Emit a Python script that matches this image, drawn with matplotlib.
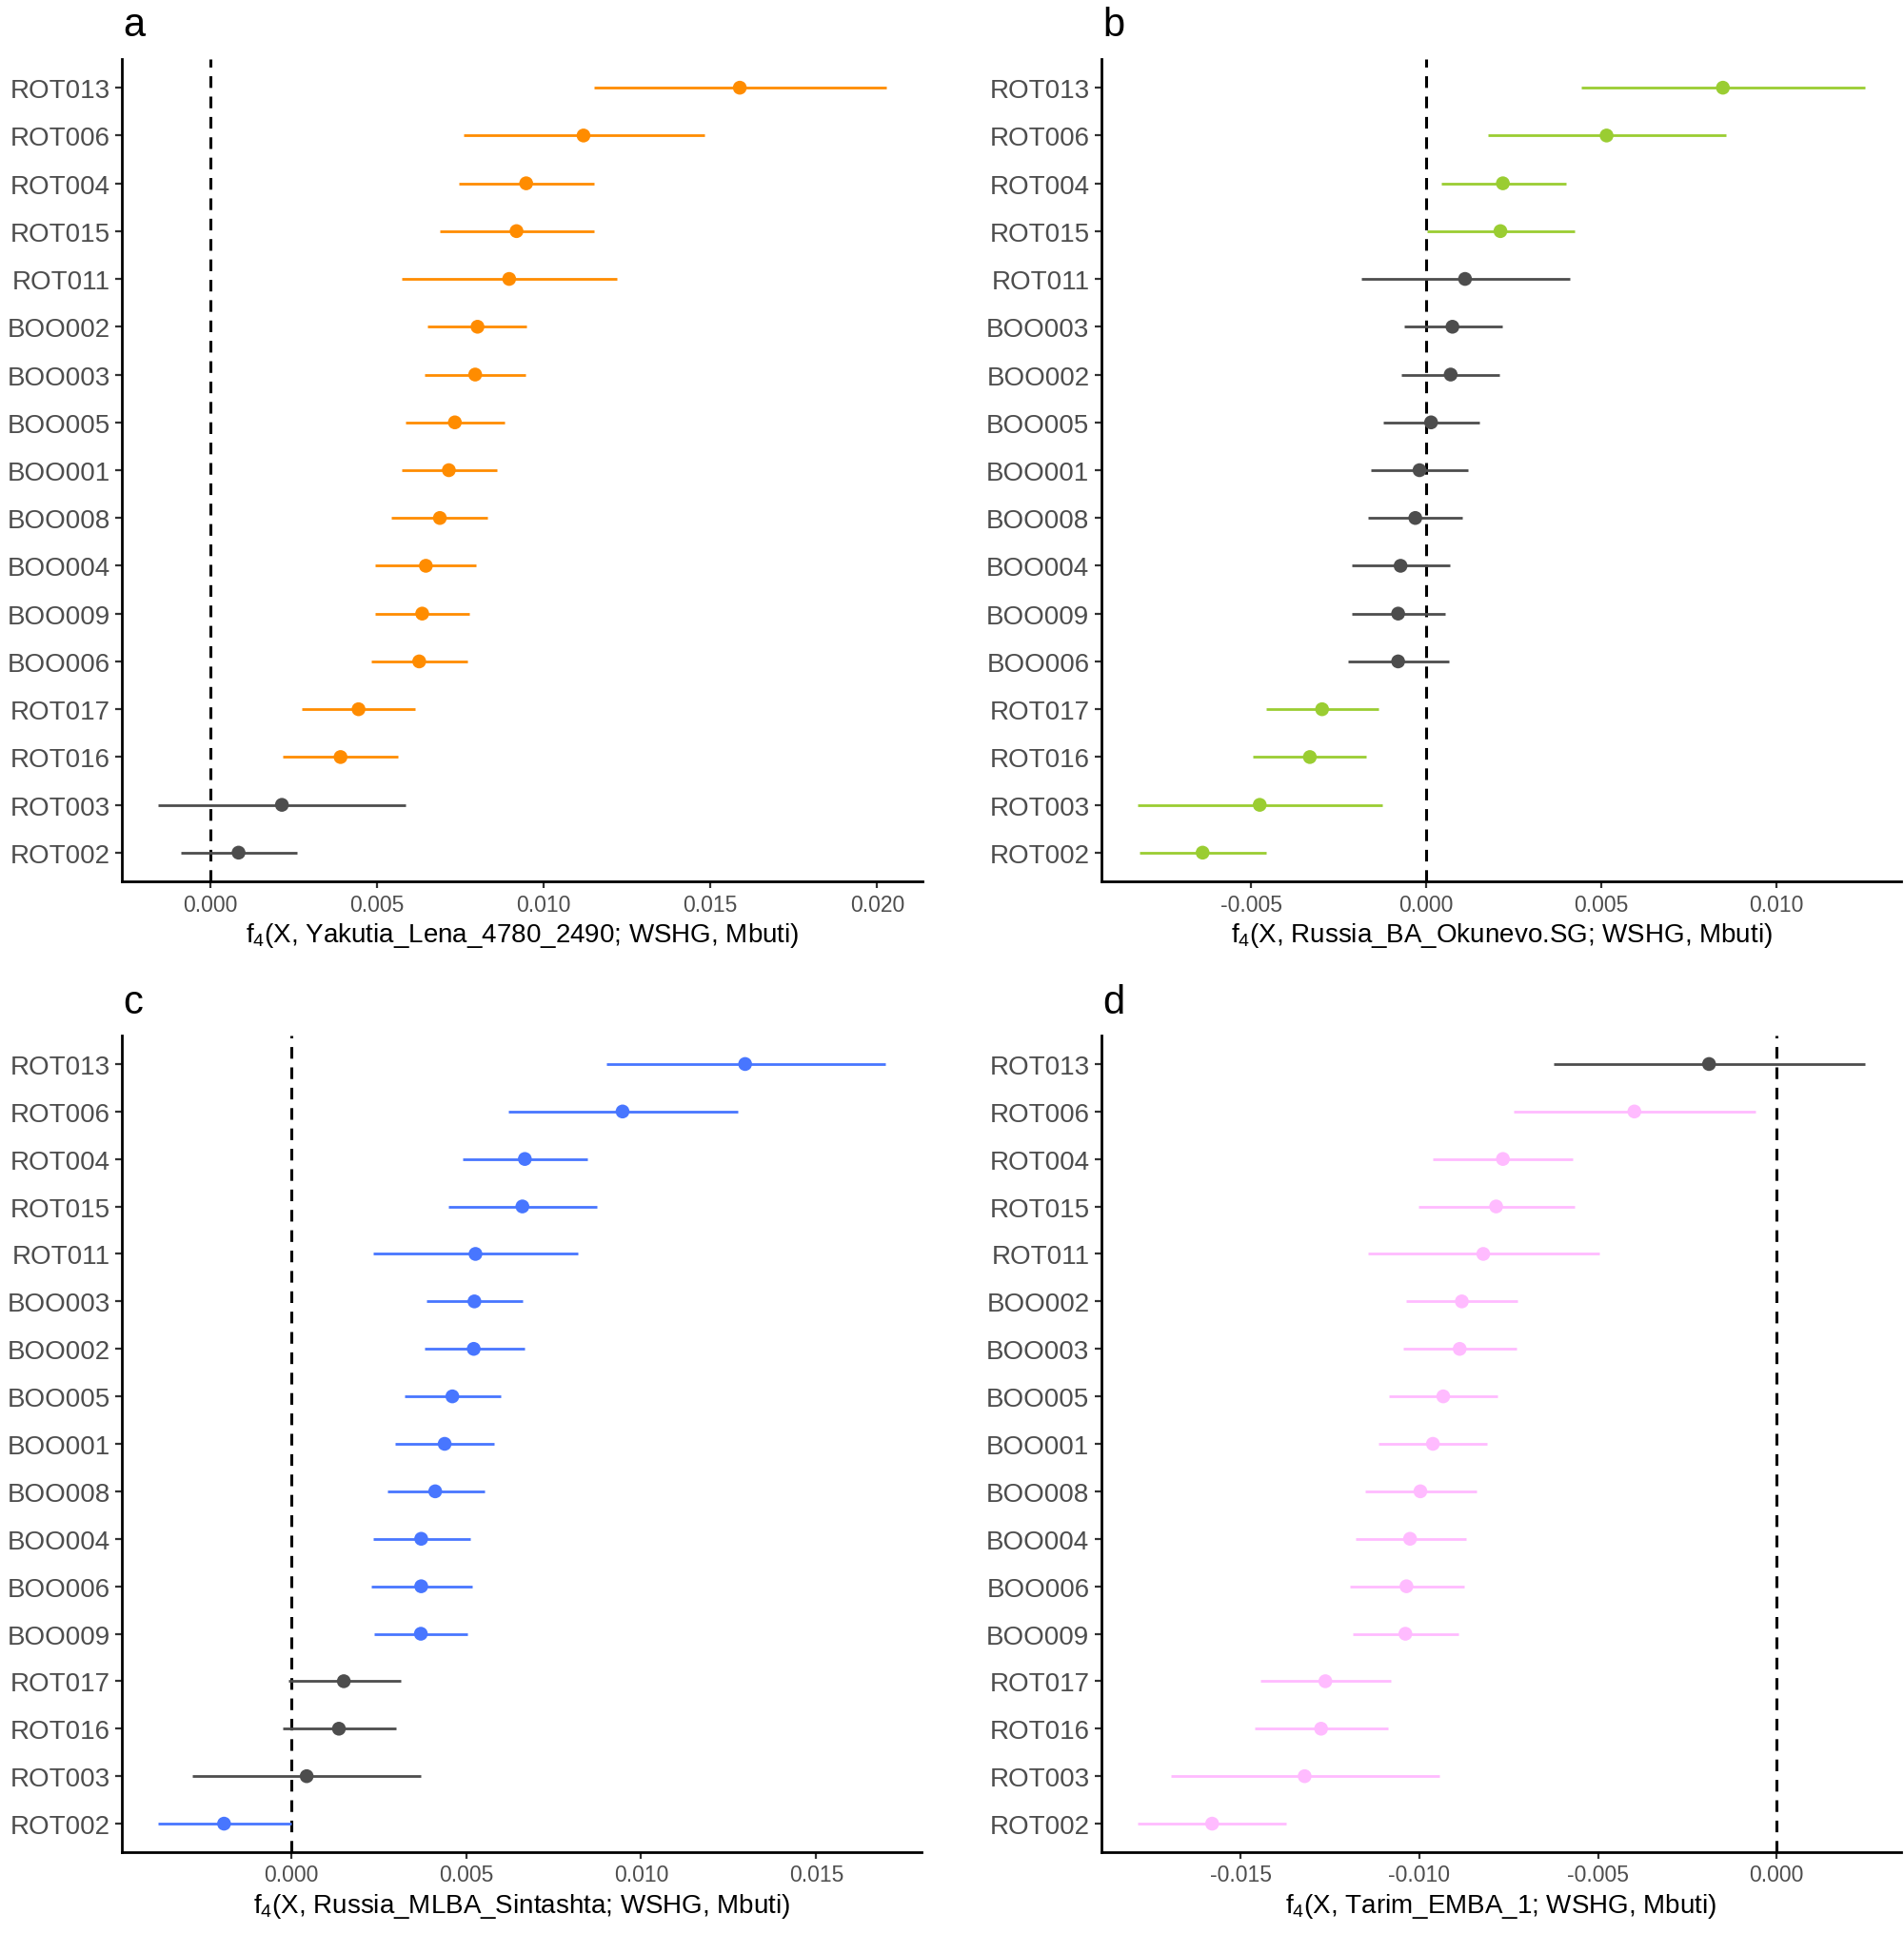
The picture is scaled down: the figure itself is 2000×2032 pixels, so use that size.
import numpy as np
import matplotlib.pyplot as plt

plt.rcParams['font.family'] = ['Liberation Sans', 'DejaVu Sans']

# %% panel a: Yakutia_Lena_4780_2490
a_labels = ['ROT013', 'ROT006', 'ROT004', 'ROT015', 'ROT011', 'BOO002', 'BOO003', 'BOO005', 'BOO001',
            'BOO008', 'BOO004', 'BOO009', 'BOO006', 'ROT017', 'ROT016', 'ROT003', 'ROT002']
a_est = [0.01588, 0.01119, 0.00947, 0.00918, 0.00896, 0.00801, 0.00794, 0.00733, 0.00715,
         0.00688, 0.00646, 0.00635, 0.00626, 0.00444, 0.00390, 0.00214, 0.00084]
a_lo = [0.01152, 0.00759, 0.00744, 0.00688, 0.00573, 0.00651, 0.00642, 0.00585, 0.00573,
        0.00543, 0.00494, 0.00494, 0.00483, 0.00274, 0.00216, -0.00157, -0.00090]
a_hi = [0.02027, 0.01483, 0.01152, 0.01152, 0.01220, 0.00949, 0.00946, 0.00883, 0.00860,
        0.00832, 0.00796, 0.00776, 0.00770, 0.00613, 0.00563, 0.00585, 0.00258]
a_sig = [1] * 15 + [0, 0]

# %% panel b: Russia_BA_Okunevo.SG
b_labels = ['ROT013', 'ROT006', 'ROT004', 'ROT015', 'ROT011', 'BOO003', 'BOO002', 'BOO005', 'BOO001',
            'BOO008', 'BOO004', 'BOO009', 'BOO006', 'ROT017', 'ROT016', 'ROT003', 'ROT002']
b_est = [0.00847, 0.00515, 0.00219, 0.00212, 0.00111, 0.00075, 0.00070, 0.00014, -0.00019,
         -0.00031, -0.00073, -0.00080, -0.00080, -0.00297, -0.00332, -0.00475, -0.00638]
b_lo = [0.00442, 0.00176, 0.00042, 0.00002, -0.00184, -0.00063, -0.00070, -0.00123, -0.00158,
        -0.00165, -0.00212, -0.00212, -0.00223, -0.00457, -0.00494, -0.00823, -0.00819]
b_hi = [0.01252, 0.00857, 0.00398, 0.00423, 0.00409, 0.00216, 0.00209, 0.00151, 0.00120,
        0.00104, 0.00068, 0.00054, 0.00064, -0.00136, -0.00170, -0.00125, -0.00457]
b_sig = [1, 1, 1, 1] + [0] * 9 + [1, 1, 1, 1]

# %% panel c: Russia_MLBA_Sintashta
c_labels = ['ROT013', 'ROT006', 'ROT004', 'ROT015', 'ROT011', 'BOO003', 'BOO002', 'BOO005', 'BOO001',
            'BOO008', 'BOO004', 'BOO006', 'BOO009', 'ROT017', 'ROT016', 'ROT003', 'ROT002']
c_est = [0.01297, 0.00947, 0.00668, 0.00661, 0.00527, 0.00524, 0.00522, 0.00461, 0.00439,
         0.00412, 0.00372, 0.00372, 0.00371, 0.00151, 0.00137, 0.00045, -0.00191]
c_lo = [0.00900, 0.00621, 0.00491, 0.00451, 0.00235, 0.00388, 0.00381, 0.00324, 0.00298,
        0.00277, 0.00235, 0.00230, 0.00237, -0.00007, -0.00024, -0.00282, -0.00379]
c_hi = [0.01697, 0.01276, 0.00846, 0.00875, 0.00820, 0.00661, 0.00667, 0.00599, 0.00580,
        0.00553, 0.00513, 0.00517, 0.00505, 0.00313, 0.00301, 0.00372, 0.00000]
c_sig = [1] * 13 + [0, 0, 0, 1]

# %% panel d: Tarim_EMBA_1
d_labels = ['ROT013', 'ROT006', 'ROT004', 'ROT015', 'ROT011', 'BOO002', 'BOO003', 'BOO005', 'BOO001',
            'BOO008', 'BOO004', 'BOO006', 'BOO009', 'ROT017', 'ROT016', 'ROT003', 'ROT002']
d_est = [-0.00189, -0.00398, -0.00766, -0.00785, -0.00821, -0.00881, -0.00887, -0.00933, -0.00962,
         -0.00997, -0.01026, -0.01036, -0.01039, -0.01263, -0.01275, -0.01321, -0.01580]
d_lo = [-0.00623, -0.00737, -0.00962, -0.01003, -0.01143, -0.01038, -0.01044, -0.01084, -0.01114,
        -0.01152, -0.01179, -0.01195, -0.01186, -0.01444, -0.01462, -0.01696, -0.01788]
d_hi = [0.00247, -0.00058, -0.00570, -0.00565, -0.00495, -0.00724, -0.00729, -0.00782, -0.00811,
        -0.00840, -0.00869, -0.00875, -0.00891, -0.01080, -0.01087, -0.00944, -0.01372]
d_sig = [0] + [1] * 16

panels = [
    ('a', a_labels, a_est, a_lo, a_hi, a_sig, '#FF8C00', 'Yakutia_Lena_4780_2490', [0.0, 0.005, 0.01, 0.015, 0.02]),
    ('b', b_labels, b_est, b_lo, b_hi, b_sig, '#9ACD32', 'Russia_BA_Okunevo.SG', [-0.005, 0.0, 0.005, 0.01]),
    ('c', c_labels, c_est, c_lo, c_hi, c_sig, '#4876FF', 'Russia_MLBA_Sintashta', [0.0, 0.005, 0.01, 0.015]),
    ('d', d_labels, d_est, d_lo, d_hi, d_sig, '#FFBBFF', 'Tarim_EMBA_1', [-0.015, -0.01, -0.005, 0.0]),
]

W, H = 2000, 2033
# axes boxes in pixels: left, top, right, bottom ; tag baseline y
boxes = [(128, 63, 969, 927, 38), (1157, 63, 1997, 927, 38),
         (128, 1089, 968, 1947, 1065), (1157, 1089, 1997, 1947, 1065)]

fig = plt.figure(figsize=(W / 100, H / 100), dpi=100)
for (tag, labels, est, lo, hi, sig, col, ref, ticks), (l, t, r, b, ty) in zip(panels, boxes):
    ax = fig.add_axes([l / W, 1 - b / H, (r - l) / W, (b - t) / H])
    n = len(labels)
    y = np.arange(n)[::-1]
    est, lo, hi = np.array(est), np.array(lo), np.array(hi)
    cols = [col if s else '#4D4D4D' for s in sig]
    ax.axvline(0, color='black', ls=(0, (4, 3)), lw=2.2, zorder=1)
    ax.hlines(y, lo, hi, colors=cols, lw=2.0, zorder=2)
    ax.scatter(est, y, s=110, c=cols, edgecolors='none', zorder=3)
    xmin, xmax = lo.min(), hi.max()
    pad = (xmax - xmin) * 0.05
    ax.set_xlim(xmin - pad, xmax + pad)
    ax.set_ylim(-0.6, n - 1 + 0.6)
    ax.set_yticks(y)
    ax.set_yticklabels(labels, fontsize=20, color='#4D4D4D')
    ax.set_xticks(ticks)
    ax.set_xticklabels(['%.3f' % v for v in ticks], fontsize=16.5, color='#4D4D4D')
    ax.tick_params(axis='both', length=5, width=1.6, color='#333333', pad=4)
    for side in ['top', 'right']:
        ax.spines[side].set_visible(False)
    for side in ['left', 'bottom']:
        ax.spines[side].set_linewidth(2.0)
    ax.set_xlabel('f$\\mathregular{_4}$(X, %s; WSHG, Mbuti)' % ref, fontsize=20, labelpad=4)
    fig.text((l + 1) / W, 1 - ty / H, tag, fontsize=30, va='baseline', ha='left')

fig.savefig('out.png', dpi=100)
